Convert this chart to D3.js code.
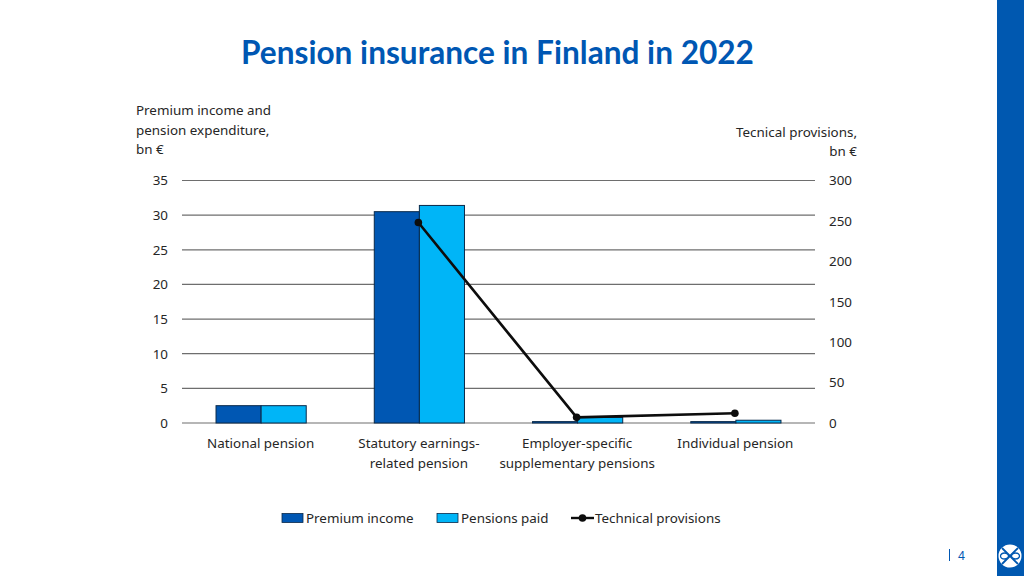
<!DOCTYPE html>
<html>
<head>
<meta charset="utf-8">
<script src="https://cdn.jsdelivr.net/npm/d3@7"></script>
<style>
  html, body { margin: 0; padding: 0; background: #fff; }
  text { font-family: "Noto Sans", sans-serif; fill: #262626; }
</style>
</head>
<body>
<div id="chart"></div>
<script>
const categories = ["National pension", "Statutory earnings-related pension", "Employer-specific supplementary pensions", "Individual pension"];
const categoryLines = [["National pension"], ["Statutory earnings-", "related pension"], ["Employer-specific", "supplementary pensions"], ["Individual pension"]];
const premiumIncome = [2.5, 30.5, 0.2, 0.2];
const pensionsPaid = [2.5, 31.4, 0.8, 0.4];
const technicalProvisions = [null, 248, 7, 12];
const leftTicks = [0, 5, 10, 15, 20, 25, 30, 35];
const rightTicks = [0, 50, 100, 150, 200, 250, 300];

const BLUE = "#0057b3", LIGHT = "#00b5f7";
const FONT_SIZE = "13.4px";
const width = 1024, height = 576;
const margin = { top: 180.5, right: 209, bottom: 153, left: 182 };

const svg = d3.select("#chart").append("svg")
    .attr("width", width)
    .attr("height", height)
    .style("display", "block");

// sidebar
svg.append("rect").attr("x", 997).attr("y", 0).attr("width", 27).attr("height", height).attr("fill", "#0058b0");

svg.append("text")
    .attr("x", 497.5).attr("y", 64)
    .attr("text-anchor", "middle")
    .style("font-family", "Lato")
    .style("font-size", "31.6px")
    .style("font-weight", "700")
    .style("fill", "#0057b3")
    .text("Pension insurance in Finland in 2022");

const xScale = d3.scaleBand().domain(categories).range([margin.left, width - margin.right]);
const yLeft = d3.scaleLinear().domain([0, 35]).range([height - margin.bottom, margin.top]);
const yRight = d3.scaleLinear().domain([0, 300]).range([height - margin.bottom, margin.top]);
const barWidth = xScale.bandwidth() * 0.285;

// gridlines
svg.append("g").selectAll("line")
    .data(leftTicks)
    .enter().append("line")
    .attr("x1", margin.left).attr("x2", width - margin.right)
    .attr("y1", d => yLeft(d)).attr("y2", d => yLeft(d))
    .attr("stroke", "#6e6e6e").attr("stroke-width", 1.2);

// left axis
const axisLeft = svg.append("g")
    .attr("transform", `translate(${margin.left - 14},0)`)
    .call(d3.axisLeft(yLeft).tickValues(leftTicks).tickSize(0).tickPadding(0));
axisLeft.select(".domain").remove();
axisLeft.selectAll("text").style("font-family", "Noto Sans").style("font-size", FONT_SIZE).style("fill", "#262626");

// right axis
const axisRight = svg.append("g")
    .attr("transform", `translate(${width - margin.right + 14},0)`)
    .call(d3.axisRight(yRight).tickValues(rightTicks).tickSize(0).tickPadding(0));
axisRight.select(".domain").remove();
axisRight.selectAll("text").style("font-family", "Noto Sans").style("font-size", FONT_SIZE).style("fill", "#262626");

// bars
const addBars = (values, fill, offset) => {
    svg.append("g").selectAll("rect")
        .data(values)
        .enter().append("rect")
        .attr("x", (d, i) => xScale(categories[i]) + xScale.bandwidth() / 2 + offset)
        .attr("width", barWidth)
        .attr("y", d => yLeft(d))
        .attr("height", d => yLeft(0) - yLeft(d))
        .attr("fill", fill)
        .attr("stroke", "#0a2a4a")
        .attr("stroke-width", 1);
};
addBars(premiumIncome, BLUE, -barWidth);
addBars(pensionsPaid, LIGHT, 0);

// line, national pension has no point
const linePoints = technicalProvisions
    .map((d, i) => ({ cat: categories[i], value: d }))
    .filter(d => d.value !== null);
const line = d3.line()
    .x(d => xScale(d.cat) + xScale.bandwidth() / 2 - 1)
    .y(d => yRight(d.value));
svg.append("path")
    .datum(linePoints)
    .attr("d", line)
    .attr("fill", "none")
    .attr("stroke", "#0d0d0d")
    .attr("stroke-width", 2.6);
svg.append("g").selectAll("circle")
    .data(linePoints)
    .enter().append("circle")
    .attr("cx", d => xScale(d.cat) + xScale.bandwidth() / 2 - 1)
    .attr("cy", d => yRight(d.value))
    .attr("r", 3.8)
    .attr("fill", "#0d0d0d");

// category labels
categories.forEach((c, i) => {
    const t = svg.append("text")
        .attr("text-anchor", "middle")
        .style("font-size", FONT_SIZE);
    categoryLines[i].forEach((l, j) => {
        t.append("tspan")
            .attr("x", xScale(c) + xScale.bandwidth() / 2 - 0.5)
            .attr("y", 448 + j * 19.5)
            .text(l);
    });
});

// axis titles
const addTitle = (lines, x, y, anchor) => {
    const t = svg.append("text").attr("text-anchor", anchor).style("font-size", FONT_SIZE);
    lines.forEach((l, j) => {
        t.append("tspan").attr("x", x).attr("y", y + j * 19.5).text(l);
    });
};
addTitle(["Premium income and", "pension expenditure,", "bn €"], 136, 115, "start");
addTitle(["Tecnical provisions,", "bn €"], 857, 136.5, "end");

// legend
const legend = svg.append("g");
const legendY = 518;
[["Premium income", BLUE, 282], ["Pensions paid", LIGHT, 437]].forEach(([label, fill, x]) => {
    legend.append("rect")
        .attr("x", x).attr("y", legendY - 4.5)
        .attr("width", 21).attr("height", 9)
        .attr("fill", fill).attr("stroke", "#0a2a4a").attr("stroke-width", 0.8);
    legend.append("text")
        .attr("x", x + 24).attr("y", legendY + 4.5)
        .style("font-size", FONT_SIZE)
        .text(label);
});
legend.append("line")
    .attr("x1", 571).attr("x2", 594)
    .attr("y1", legendY).attr("y2", legendY)
    .attr("stroke", "#0d0d0d").attr("stroke-width", 2.4);
legend.append("circle").attr("cx", 582.5).attr("cy", legendY).attr("r", 3.8).attr("fill", "#0d0d0d");
legend.append("text")
    .attr("x", 595).attr("y", legendY + 4.5)
    .style("font-size", FONT_SIZE)
    .text("Technical provisions");

// page number
svg.append("line")
    .attr("x1", 949.5).attr("x2", 949.5)
    .attr("y1", 549).attr("y2", 561)
    .attr("stroke", "#0057b3").attr("stroke-width", 1);
svg.append("text")
    .attr("x", 958).attr("y", 560)
    .style("font-size", "12px")
    .style("fill", "#0057b3")
    .text("4");

// logo
const logo = svg.append("g").attr("transform", "translate(1010,556)");
logo.append("circle").attr("r", 11.5).attr("fill", "#fff");
logo.append("path")
    .attr("d", "M-8,-8 L8,8 M-8,8 L8,-8")
    .attr("stroke", "#0058b0").attr("stroke-width", 1.8).attr("fill", "none");
logo.append("ellipse").attr("cx", -5.5).attr("cy", 0).attr("rx", 4).attr("ry", 3).attr("fill", "#fff").attr("stroke", "#0058b0").attr("stroke-width", 1.3);
logo.append("ellipse").attr("cx", 5.5).attr("cy", 0).attr("rx", 4).attr("ry", 3).attr("fill", "#fff").attr("stroke", "#0058b0").attr("stroke-width", 1.3);
</script>
</body>
</html>
